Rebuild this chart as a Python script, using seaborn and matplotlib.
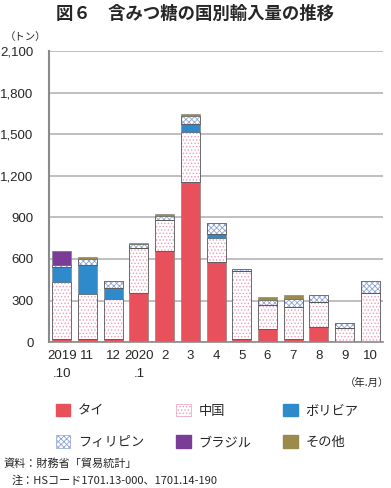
import seaborn as sns
import matplotlib.pyplot as plt
from matplotlib.patches import Patch
from matplotlib.ticker import FuncFormatter
import numpy as np

months = ["2019\n.10", "11", "12", "2020\n.1", "2", "3", "4", "5", "6", "7", "8", "9", "10"]
thai = [20, 25, 25, 358, 657, 1154, 581, 22, 94, 25, 106, 0, 0]
china = [415, 320, 287, 321, 221, 360, 170, 493, 172, 225, 180, 99, 355]
bolivia = [108, 209, 79, 0, 0, 61, 32, 0, 0, 0, 0, 0, 0]
philippines = [17, 46, 49, 28, 34, 61, 79, 15, 36, 59, 52, 36, 84]
brazil = [100, 0, 0, 0, 0, 0, 0, 0, 0, 0, 0, 0, 0]
other = [0, 12, 4, 8, 10, 10, 0, 0, 20, 29, 0, 0, 0]

names = ["タイ", "中国", "ボリビア", "フィリピン", "ブラジル", "その他"]
series = [thai, china, bolivia, philippines, brazil, other]
# face colour, hatch colour, hatch
styles = [("#E8505B", None, None),
          ("white", "#EB9DBB", "....."),
          ("#2F8ACB", None, None),
          ("white", "#8FA3D6", "xxxxxx"),
          ("#7B3C97", None, None),
          ("#9A8A4C", None, None)]

sns.set_style("white")
plt.rcParams['font.family'] = ['Liberation Sans', 'Noto Sans CJK JP', 'DejaVu Sans']
plt.rcParams['hatch.linewidth'] = 0.6
jp = ['Noto Sans CJK JP', 'DejaVu Sans']

fig = plt.figure(figsize=(3.91, 4.88), dpi=100)
ax = fig.add_axes([0.125, 0.299, 0.855, 0.596])

bottom = np.zeros(len(months))
for vals, (fc, hc, hatch) in zip(series, styles):
    vals = np.array(vals, dtype=float)
    if hatch:
        sns.barplot(x=months, y=vals, bottom=bottom, color=fc, saturation=1,
                    width=0.74, errorbar=None, edgecolor=hc, hatch=hatch,
                    linewidth=0, ax=ax)
        sns.barplot(x=months, y=vals, bottom=bottom, color="#555555", fill=False,
                    width=0.74, errorbar=None, linewidth=0.6, ax=ax)
    else:
        sns.barplot(x=months, y=vals, bottom=bottom, color=fc, saturation=1,
                    width=0.74, errorbar=None, edgecolor="#777777",
                    linewidth=0.4, ax=ax)
    bottom += vals

ax.set_xlim(-0.5, len(months) - 0.5)
ax.set_ylim(0, 2100)
ax.set_yticks(range(0, 2101, 300))
ax.yaxis.set_major_formatter(FuncFormatter(lambda v, p: f"{int(v):,}"))
ax.yaxis.grid(True, color="#B4B4B4", linewidth=1.2)
ax.set_axisbelow(True)
ax.set_xlabel("")
ax.set_ylabel("")
for s in ["top", "right"]:
    ax.spines[s].set_visible(False)
ax.spines["left"].set_color("#8A8A8A")
ax.spines["left"].set_linewidth(1.5)
ax.spines["bottom"].set_color("#8A8A8A")
ax.spines["bottom"].set_linewidth(1.2)
ax.set_xticks(np.arange(-0.5, len(months)), minor=True)
ax.tick_params(axis="x", which="major", length=0, pad=6, labelsize=9.5)
ax.tick_params(axis="x", which="minor", length=4, color="#8A8A8A", direction="out")
ax.tick_params(axis="y", length=0, pad=11, labelsize=9.5)
for lab in ax.get_xticklabels():
    lab.set_linespacing(1.6)
    lab.set_verticalalignment("top")

fig.text(0.5, 0.972, "図６　含みつ糖の国別輸入量の推移", ha="center", va="center",
         fontsize=12.5, fontweight="bold", family=jp)
fig.text(0.065, 0.924, "（トン）", ha="center", va="center", fontsize=7.5, family=jp)
fig.text(0.995, 0.216, "（年.月）", ha="right", va="center", fontsize=7.5, family=jp)

handles = []
for (fc, hc, hatch), name in zip(styles, names):
    if hatch:
        handles.append(Patch(facecolor=fc, edgecolor=hc, hatch=hatch, linewidth=0.5, label=name))
    else:
        handles.append(Patch(facecolor=fc, edgecolor=fc, label=name))
order = [0, 3, 1, 4, 2, 5]
fig.legend([handles[i] for i in order], [names[i] for i in order],
           loc="center", bbox_to_anchor=(0.53, 0.126), ncol=3, frameon=False,
           prop={'family': jp, 'size': 9.5}, handlelength=1.1, handleheight=1.1,
           columnspacing=2.4, labelspacing=1.35, handletextpad=0.6)

fig.text(0.008, 0.051, "資料：財務省「貿易統計」", ha="left", va="center", fontsize=8, family=jp)
fig.text(0.03, 0.016, "注：HSコード1701.13-000、1701.14-190", ha="left", va="center",
         fontsize=8, family=jp)

plt.savefig("out.png", dpi=100)
